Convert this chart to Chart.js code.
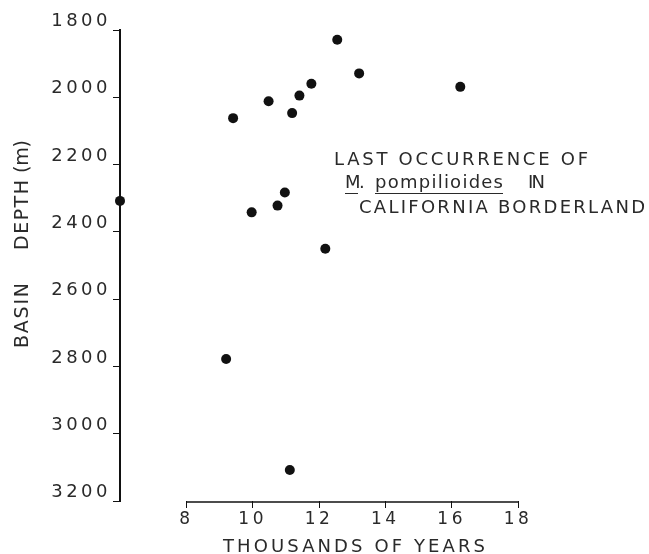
<!DOCTYPE html>
<html lang="en">
<head>
<meta charset="UTF-8">
<title>Last occurrence of M. pompilioides</title>
<script src="https://cdn.jsdelivr.net/npm/chart.js@4.4.3/dist/chart.umd.min.js"></script>
<style>
  html, body { margin: 0; padding: 0; background: #fff; }
  canvas { display: block; }
</style>
</head>
<body>
<canvas id="chart" width="649" height="554"></canvas>
<script>
// age in thousands of years, basin depth in metres
const ages   = [12.55, 13.21, 16.26, 11.77, 11.41, 10.48, 9.41, 11.19, 6.0, 10.97, 10.75, 9.97, 12.19, 9.2, 11.12];
const depths = [1829, 1929, 1969, 1960, 1995, 2012, 2062, 2047, 2308, 2283, 2322, 2342, 2450, 2778, 3108];
const xTicks = [8, 10, 12, 14, 16, 18];
const yTicks = [1800, 2000, 2200, 2400, 2600, 2800, 3000, 3200];

const ink = '#111';
const textInk = '#2a2a2a';
const FONT = '"DejaVu Sans", sans-serif';

// draw text stretched to a given width with letter spacing
function fitText(ctx, text, x, y, width) {
  ctx.letterSpacing = '0px';
  const w = ctx.measureText(text).width;
  const ls = text.length > 1 ? (width - w) / (text.length - 1) : 0;
  ctx.letterSpacing = ls + 'px';
  ctx.fillText(text, x, y);
  ctx.letterSpacing = '0px';
}

const ornaments = {
  id: 'ornaments',
  beforeDraw(chart) {
    // y scale labels are drawn first, widely spaced
    chart.ctx.letterSpacing = '3.5px';
  },
  afterDatasetsDraw(chart) {
    // x scale (z: 1) is drawn after this, tighter
    chart.ctx.letterSpacing = '0.5px';
  },
  afterDraw(chart) {
    const ctx = chart.ctx;
    const xs = chart.scales.x;
    const bottom = chart.chartArea.bottom + 1;
    ctx.save();
    ctx.letterSpacing = '0px';

    // x axis line only spans the labelled range
    ctx.strokeStyle = ink;
    ctx.lineWidth = 1.5;
    ctx.beginPath();
    ctx.moveTo(xs.getPixelForValue(xTicks[0]), bottom);
    ctx.lineTo(xs.getPixelForValue(xTicks[xTicks.length - 1]), bottom);
    ctx.stroke();

    ctx.fillStyle = textInk;
    ctx.textBaseline = 'alphabetic';
    ctx.textAlign = 'left';

    // x title
    ctx.font = '18px ' + FONT;
    fitText(ctx, 'THOUSANDS OF YEARS', 223, 552, 262);

    // annotation
    fitText(ctx, 'LAST OCCURRENCE OF', 334, 165, 254);
    fitText(ctx, 'M', 345, 188, 13);
    ctx.fillText('.', 359, 188);
    fitText(ctx, 'pompilioides', 375, 188, 128);
    fitText(ctx, 'IN', 528, 188, 17);
    fitText(ctx, 'CALIFORNIA BORDERLAND', 359, 213, 286);
    ctx.strokeStyle = textInk;
    ctx.lineWidth = 1;
    ctx.beginPath();
    ctx.moveTo(345, 193.5); ctx.lineTo(358, 193.5);
    ctx.moveTo(375, 193.5); ctx.lineTo(503, 193.5);
    ctx.stroke();

    // y title, rotated, reading bottom to top
    ctx.font = '19px ' + FONT;
    ctx.textBaseline = 'middle';
    const words = [['BASIN', 348, 65], ['DEPTH', 250, 70], ['(m)', 173, 33]];
    words.forEach(([t, y0, w]) => {
      ctx.save();
      ctx.translate(23, y0);
      ctx.rotate(-Math.PI / 2);
      fitText(ctx, t, 0, 0, w);
      ctx.restore();
    });
    ctx.restore();
  }
};

new Chart(document.getElementById('chart'), {
  type: 'scatter',
  data: {
    datasets: [{
      data: ages.map((a, i) => ({ x: a, y: depths[i] })),
      pointRadius: 5,
      pointHoverRadius: 5,
      backgroundColor: ink,
      borderColor: ink,
      borderWidth: 0,
      clip: false
    }]
  },
  options: {
    responsive: false,
    animation: false,
    devicePixelRatio: 1,
    layout: { padding: { top: 30, right: 131, bottom: 0, left: 0 } },
    plugins: { legend: { display: false }, tooltip: { enabled: false } },
    scales: {
      x: {
        type: 'linear',
        min: 6,
        max: 18,
        z: 1,
        afterBuildTicks: s => { s.ticks = xTicks.map(v => ({ value: v })); },
        afterFit: s => { s.height = 53; },
        border: { display: false },
        grid: { drawOnChartArea: false, tickLength: 7, color: ink, lineWidth: 1 },
        ticks: { color: textInk, font: { family: FONT, size: 17 }, padding: 1, maxRotation: 0, autoSkip: false }
      },
      y: {
        type: 'linear',
        reverse: true,
        min: 1800,
        max: 3200,
        afterBuildTicks: s => { s.ticks = yTicks.map(v => ({ value: v })); },
        afterFit: s => { s.width = 120; },
        border: { display: true, color: ink, width: 2 },
        grid: { drawOnChartArea: false, tickLength: 7, color: ink, lineWidth: 1 },
        ticks: {
          color: textInk,
          font: { family: FONT, size: 18, lineHeight: 0.95 },
          padding: 2,
          autoSkip: false,
          callback: v => [String(v), '']
        }
      }
    }
  },
  plugins: [ornaments]
});
</script>
</body>
</html>
